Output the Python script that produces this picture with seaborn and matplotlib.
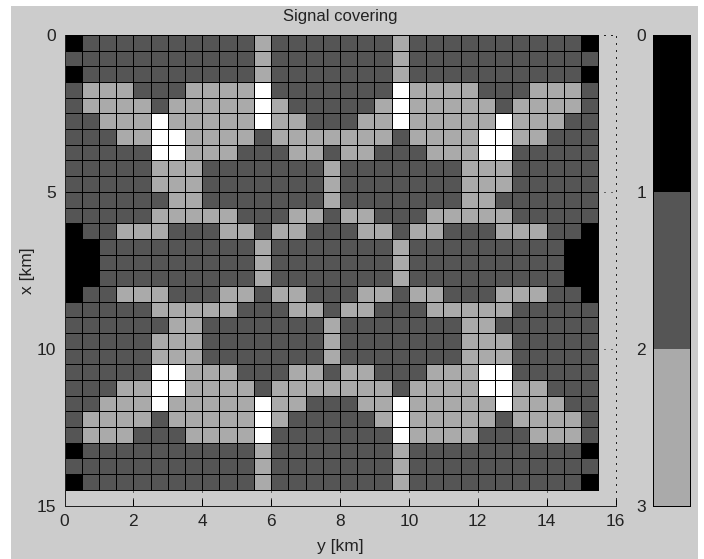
import matplotlib
matplotlib.use("Agg")
import matplotlib.pyplot as plt
from matplotlib.colors import BoundaryNorm, ListedColormap
from matplotlib.patches import Rectangle
import numpy as np
import seaborn as sns

# number of signals covering each 0.5 km cell, one string per x row
cover_rows = [
    "0111111111121111111211111111110",
    "1111111111121111111211111111111",
    "0111111111121111111211111111110",
    "1222111222231111111322221112221",
    "1222212222232111112322222122221",
    "1122232222232211122322222322211",
    "1112233222212222222122223322111",
    "1111133222111221221112223311111",
    "1111122211111112111111122211111",
    "1111122211111112111111122211111",
    "1111112211111112111111122111111",
    "1111122222111221221112222211111",
    "0112221112212211122122111222110",
    "0011111111121111111211111111100",
    "0011111111121111111211111111100",
    "0011111111121111111211111111100",
    "0112221112212211122122111222110",
    "1111122222111221221112222211111",
    "1111112211111112111111122111111",
    "1111122211111112111111122211111",
    "1111122211111112111111122211111",
    "1111133222111221221112223311111",
    "1112233222212222222122223322111",
    "1122232222232211122322222322211",
    "1222212222232111112322222122221",
    "1222111222231111111322221112221",
    "0111111111121111111211111111110",
    "1111111111121111111211111111111",
    "0111111111121111111211111111110",
]
x_ticks_km = [0, 5, 10, 15]
y_ticks_km = [0, 2, 4, 6, 8, 10, 12, 14, 16]
level_ticks = [0, 1, 2, 3]
level_colors = ["#000000", "#555555", "#aaaaaa"]

cells_per_km = 2
W, H = 704, 559
BG = "#cccccc"
INK = "#222222"

plt.rcParams["font.family"] = ["Liberation Sans", "DejaVu Sans"]
plt.rcParams["axes.linewidth"] = 0.72

coverage = np.array([[int(c) for c in row] for row in cover_rows])

fig = plt.figure(figsize=(W / 100, H / 100), dpi=100, facecolor="white")
fig.patches.append(Rectangle((11 / W, 0), 687 / W, 553 / H, transform=fig.transFigure,
                             facecolor=BG, edgecolor="none", zorder=-10))
ax = fig.add_axes([64.5 / W, 1 - 505.5 / H, 551 / W, 470.5 / H])
cax = fig.add_axes([653 / W, 1 - 505.5 / H, 37 / W, 470.5 / H])

cmap = ListedColormap(level_colors)
cmap.set_over("white")
norm = BoundaryNorm(level_ticks, cmap.N)

sns.heatmap(coverage, ax=ax, cbar_ax=cax, cmap=cmap, norm=norm,
            linewidths=0.65, linecolor="black",
            xticklabels=False, yticklabels=False,
            cbar_kws={"ticks": level_ticks})

# axes run past the grid, same as the original
ax.set_facecolor(BG)
ax.set_xlim(0, 16 * cells_per_km)
ax.set_ylim(15 * cells_per_km, 0)
ax.set_xticks([t * cells_per_km for t in y_ticks_km], labels=y_ticks_km)
ax.set_yticks([t * cells_per_km for t in x_ticks_km], labels=x_ticks_km)
ax.tick_params(direction="in", length=5, width=0.72, labelsize=12.5, pad=6, color="black",
               labelcolor=INK)
ax.set_axisbelow(True)
ax.grid(True, color="black", lw=0.72, linestyle=(0, (1, 6)))

dots = (0, (1, 6))
for side in ["left", "bottom", "top", "right"]:
    ax.spines[side].set_visible(True)
    ax.spines[side].set_linewidth(0.72)
    ax.spines[side].set_color(INK)
ax.spines["top"].set_linestyle(dots)
ax.spines["right"].set_linestyle(dots)
ax.spines["top"].set_zorder(0.6)

ax.set_title("Signal covering", fontsize=12, color=INK, pad=10)
ax.set_xlabel("y [km]", fontsize=12.5, color=INK, labelpad=7)
ax.set_ylabel("x [km]", fontsize=12.5, color=INK, labelpad=1)

cax.invert_yaxis()
cax.yaxis.tick_left()
cax.tick_params(length=0, labelsize=12.5, labelcolor=INK, pad=5)
cax.spines[:].set_visible(True)
cax.spines[:].set_linewidth(0.72)

fig.savefig("out.png", dpi=100, facecolor=fig.get_facecolor())
